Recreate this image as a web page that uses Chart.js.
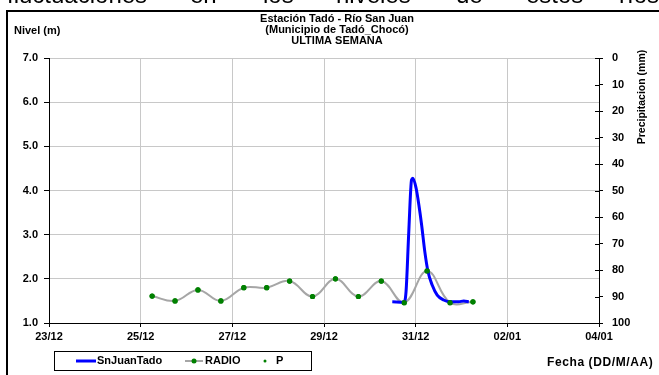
<!DOCTYPE html>
<html><head><meta charset="utf-8">
<script src="https://cdn.jsdelivr.net/npm/chart.js@4/dist/chart.umd.min.js"></script>
<style>html,body{margin:0;padding:0;background:#fff;overflow:hidden}canvas{display:block;background:#fff}</style>
</head><body>
<canvas id="c" width="659" height="375"></canvas>
<script>
// ---- data (x = days since 23/12 00:00) ----
const xTickLabels = ['23/12','25/12','27/12','29/12','31/12','02/01','04/01'];
const radioDays   = [2.25, 2.75, 3.25, 3.75, 4.25, 4.75, 5.25, 5.75, 6.25, 6.75, 7.25, 7.75, 8.25, 8.75, 9.25];
const radioLevels = [1.61, 1.50, 1.75, 1.50, 1.80, 1.80, 1.95, 1.60, 2.00, 1.60, 1.95, 1.46, 2.18, 1.46, 1.48];
const snJuanDays   = [7.49, 7.74, 7.79, 7.85, 7.91, 7.94, 8.01, 8.07, 8.13, 8.20, 8.27, 8.36, 8.47, 8.61, 8.76, 8.94, 9.05, 9.16];
const snJuanLevels = [1.48, 1.47, 1.71, 3.07, 4.24, 4.28, 4.05, 3.67, 3.22, 2.61, 2.16, 1.86, 1.63, 1.52, 1.48, 1.48, 1.50, 1.48];
const pDays   = [];
const pValues = [];
const seriesNames = ['SnJuanTado', 'RADIO', 'P'];
const titleLines = ['Estación Tadó - Río San Juan', '(Municipio de Tadó_Chocó)', 'ULTIMA SEMANA'];
const topWords = [['fluctuaciones',7],['en',190],['los',263],['niveles',336],['de',456],['estos',526],['ríos',619]];

const FONT = "'Liberation Sans', Arial, sans-serif";
const pts = (xs, ys) => xs.map((x, i) => ({x: x, y: ys[i]}));

const deco = {
  id: 'deco',
  afterDatasetsDraw(chart) {
    const meta = chart.getDatasetMeta(1);
    meta.data.forEach(p => p.draw(chart.ctx, chart.chartArea));
  },
  afterDraw(chart) {
    const ctx = chart.ctx;
    ctx.save();
    // clipped document text at very top
    ctx.fillStyle = '#000';
    ctx.font = '24px ' + FONT;
    ctx.textBaseline = 'alphabetic';
    ctx.textAlign = 'left';
    topWords.forEach(w => ctx.fillText(w[0], w[1], 3));
    // frame
    ctx.fillRect(6, 10, 653, 2);
    ctx.fillRect(6, 10, 2, 365);
    // title
    ctx.font = 'bold 11px ' + FONT;
    ctx.textAlign = 'center';
    ctx.textBaseline = 'middle';
    titleLines.forEach((t, i) => ctx.fillText(t, 337, 19 + i * 11));
    // axis titles
    ctx.textAlign = 'left';
    ctx.fillText('Nivel (m)', 14, 31);
    ctx.save();
    ctx.font = 'bold 12px ' + FONT;
    try { ctx.letterSpacing = '0.6px'; } catch (e) {}
    ctx.fillText('Fecha (DD/M/AA)', 547, 363);
    ctx.restore();
    ctx.save();
    ctx.translate(642, 97);
    ctx.rotate(-Math.PI / 2);
    ctx.textAlign = 'center';
    ctx.font = 'bold 10.5px ' + FONT;
    ctx.fillText('Precipitacion (mm)', 0, 0);
    ctx.restore();
    // inner half of right-axis ticks
    const s = chart.scales.y2;
    ctx.strokeStyle = '#000';
    ctx.lineWidth = 1;
    ctx.beginPath();
    s.ticks.forEach(t => {
      const y = Math.round(s.getPixelForValue(t.value)) + 0.5;
      ctx.moveTo(s.left - 4, y); ctx.lineTo(s.left, y);
    });
    ctx.stroke();
    // legend
    const ds = chart.data.datasets;
    ctx.strokeStyle = '#000';
    ctx.lineWidth = 1;
    ctx.strokeRect(54.5, 351.5, 257, 19);
    const ly = 361;
    ctx.textAlign = 'left';
    ctx.font = 'bold 11px ' + FONT;
    // SnJuanTado
    ctx.strokeStyle = ds[0].borderColor; ctx.lineWidth = 3;
    ctx.beginPath(); ctx.moveTo(76, ly); ctx.lineTo(96, ly); ctx.stroke();
    ctx.fillStyle = '#000'; ctx.fillText(ds[0].label, 97, ly);
    // RADIO
    ctx.strokeStyle = ds[1].borderColor; ctx.lineWidth = 2;
    ctx.beginPath(); ctx.moveTo(185, ly); ctx.lineTo(203, ly); ctx.stroke();
    ctx.fillStyle = ds[1].pointBackgroundColor;
    ctx.beginPath(); ctx.arc(194, ly, 2.5, 0, Math.PI * 2); ctx.fill();
    ctx.fillStyle = '#000'; ctx.fillText(ds[1].label, 205, ly);
    // P
    ctx.fillStyle = ds[2].pointBackgroundColor;
    ctx.beginPath(); ctx.arc(265, ly, 1.5, 0, Math.PI * 2); ctx.fill();
    ctx.fillStyle = '#000'; ctx.fillText(ds[2].label, 276, ly);
    ctx.restore();
  }
};

const tickFont = {family: FONT, size: 11, weight: 'bold'};

new Chart(document.getElementById('c'), {
  type: 'line',
  data: {
    datasets: [
      {label: seriesNames[0], data: pts(snJuanDays, snJuanLevels), borderColor: '#0000ff', borderWidth: 3,
       pointRadius: 0, cubicInterpolationMode: 'monotone', yAxisID: 'y', order: 1},
      {label: seriesNames[1], data: pts(radioDays, radioLevels), borderColor: '#a6a6a6', borderWidth: 2,
       tension: 0.4, pointRadius: 2.6, pointBackgroundColor: '#008000', pointBorderColor: '#008000',
       pointBorderWidth: 0, yAxisID: 'y', order: 2},
      {label: seriesNames[2], data: pts(pDays, pValues), showLine: false, pointRadius: 1.5,
       pointBackgroundColor: '#008000', pointBorderColor: '#008000', yAxisID: 'y2', order: 3}
    ]
  },
  options: {
    responsive: false, animation: false, devicePixelRatio: 1,
    layout: {padding: {top: 58, left: 0, right: 0, bottom: 0}},
    plugins: {legend: {display: false}, tooltip: {enabled: false}, title: {display: false}},
    scales: {
      x: {type: 'linear', min: 0, max: 12,
          ticks: {stepSize: 2, autoSkip: false, maxRotation: 0, padding: 3, color: '#000', font: tickFont,
                  callback: v => xTickLabels[Math.round(v / 2)]},
          grid: {color: '#c8c8c8', tickColor: '#000', tickLength: 4},
          border: {color: '#000', width: 1},
          afterFit: s => { s.height = 52; }},
      y: {position: 'left', min: 1, max: 7,
          ticks: {stepSize: 1, padding: 6, color: '#000', font: tickFont, callback: v => v.toFixed(1)},
          grid: {color: '#c8c8c8', tickColor: '#000', tickLength: 5},
          border: {color: '#000', width: 1},
          afterFit: s => { s.width = 49; }},
      y2: {position: 'right', reverse: true, min: 0, max: 100,
           ticks: {stepSize: 10, padding: 9, color: '#000', font: tickFont},
           grid: {drawOnChartArea: false, tickColor: '#000', tickLength: 4},
           border: {color: '#000', width: 1},
           afterFit: s => { s.width = 60; }}
    }
  },
  plugins: [deco]
});
</script>
</body></html>
